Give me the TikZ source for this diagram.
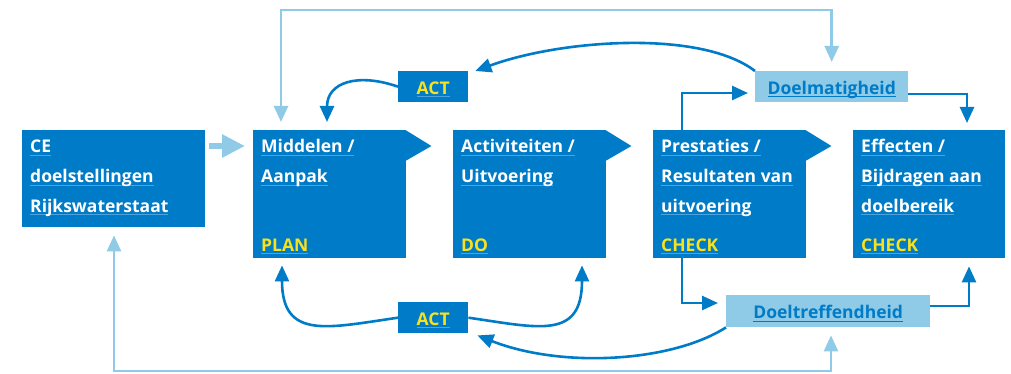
\documentclass[tikz,border=0pt]{standalone}
\usepackage{fontspec}
\setmainfont{Open Sans}
\usetikzlibrary{arrows.meta}

\definecolor{rwsblue}{HTML}{007BC7}
\definecolor{rwslight}{HTML}{8FCAE7}
\definecolor{rwsyellow}{HTML}{F9E11E}
\definecolor{ulpale}{HTML}{4FA3DC}

% text with a thin rule just under the baseline
\newcommand\ulx[2][ulpale]{\leavevmode\setbox0\hbox{#2}\rlap{\color{#1}\rule[-3pt]{\wd0}{1pt}}\box0}

\begin{document}
\begin{tikzpicture}[x=1pt, y=-1pt,
  txt/.style={font=\bfseries\fontsize{17.5}{20}\selectfont},
  box/.style={fill=rwsblue, draw=none, anchor=north west, inner sep=0pt,
    minimum width=153pt, minimum height=128pt},
  tabfill/.style={fill=rwsblue, draw=none},
  lbl/.style={txt, anchor=base west, inner sep=0pt, text=white},
  tag/.style={lbl, text=rwsyellow},
  smallbox/.style={txt, fill=rwsblue, anchor=north west, inner sep=0pt,
    minimum width=70pt, minimum height=31pt, text=rwsyellow,
    text height=15pt, text depth=0pt},
  lightbox/.style={txt, fill=rwslight, anchor=north west, inner sep=0pt,
    minimum height=31pt, text=rwsblue,
    text height=15pt, text depth=0pt},
  link/.style={draw=rwsblue, line width=2.6pt,
    -{Triangle[length=16pt,width=14pt]}},
  loopline/.style={draw=rwslight, line width=2.6pt,
    {Triangle[length=16pt,width=14pt]}-{Triangle[length=16pt,width=14pt]}},
  fatarrow/.style={draw=rwslight, line width=6pt,
    -{Triangle[length=23pt,width=22pt]}}
]
\useasboundingbox (0,0) rectangle (1011,374);

% main boxes
\node[box, minimum width=183pt, minimum height=97pt] (ce) at (22,130) {};
\node[box] (plan) at (253,130) {};
\node[box] (do) at (453,130) {};
\node[box] (chk) at (653,130) {};
\node[box, minimum width=152pt] (eff) at (853,130) {};

% pointer tabs, overlapping the box edge by one unit
\foreach \b in {plan,do,chk}
  \fill[tabfill] (\b.north east) ++(-1,0) -- ++(26,16) -- ++(-26,15) -- cycle;

% box texts
\node[lbl] (ce1) at (30,153) {\ulx{CE}};
\node[lbl] (ce2) at (30,182.5) {\ulx{doelstellingen}};
\node[lbl] (ce3) at (30,212) {\ulx{Rijkswaterstaat}};

\node[lbl] (plan1) at (261,153) {\ulx{Middelen /}};
\node[lbl] (plan2) at (261,182.5) {\ulx{Aanpak}};
\node[tag] (plan3) at (261,251) {\ulx{PLAN}};

\node[lbl] (do1) at (461,153) {\ulx{Activiteiten /}};
\node[lbl] (do2) at (461,182.5) {\ulx{Uitvoering}};
\node[tag] (do3) at (461,251) {\ulx{DO}};

\node[lbl] (chk1) at (661,153) {\ulx{Prestaties /}};
\node[lbl] (chk2) at (661,182.5) {\ulx{Resultaten van}};
\node[lbl] (chk3) at (661,212) {\ulx{uitvoering}};
\node[tag] (chk4) at (661,251) {\ulx{CHECK}};

\node[lbl] (eff1) at (861,153) {\ulx{Effecten /}};
\node[lbl] (eff2) at (861,182.5) {\ulx{Bijdragen aan}};
\node[lbl] (eff3) at (861,212) {\ulx{doelbereik}};
\node[tag] (eff4) at (861,251) {\ulx{CHECK}};

% small boxes
\node[smallbox] (act1) at (398,71) {\ulx{ACT}};
\node[smallbox] (act2) at (398,302) {\ulx{ACT}};
\node[lightbox, minimum width=153pt] (dm) at (755,71) {\ulx[rwsblue]{Doelmatigheid}};
\node[lightbox, minimum width=204pt, minimum height=32pt] (dt) at (726,295) {\ulx[rwsblue]{Doeltreffendheid}};

% CE feeds the plan
\draw[fatarrow] ([shift={(4,16)}]ce.north east) -- ([shift={(-8,16)}]plan.north west);

% light feedback loops
\coordinate (toprow) at (0,10);
\coordinate (botrow) at (0,371);
\coordinate (planin) at ([shift={(28,-8)}]plan.north west);
\coordinate (dmin) at ([shift={(0,-9)}]dm.north);
\coordinate (cein) at ([shift={(92,8)}]ce.south west);
\coordinate (dtin) at ([shift={(105,8)}]dt.south west);
\draw[loopline] (planin) -- (planin |- toprow) -| (dmin);
\draw[loopline] (cein) -- (cein |- botrow) -| (dtin);

% check results to the two measures
\draw[link] ([xshift=29pt]chk.north west) |- ([shift={(-7,22)}]dm.north west);
\draw[link] ([shift={(0,23)}]dm.north east) -| ([shift={(114,-7)}]eff.north west);
\draw[link] ([xshift=29pt]chk.south west) |- ([shift={(-8,8)}]dt.north west);
\draw[link] ([shift={(0,11)}]dt.north east) -| ([shift={(116,8)}]eff.south west);

% act loops
\draw[link] (dm.north west) .. controls +(-55,-42) and +(84,-31) .. ([xshift=7pt]act1.north east);
\draw[link] (act1.west) .. controls +(-40,-14) and +(0,-40) .. ([shift={(74,-8)}]plan.north west);
\draw[link] (act2.west) .. controls +(-70,10) and +(0,75) .. ([shift={(29,7)}]plan.south west);
\draw[link] (act2.east) .. controls +(70,10) and +(0,75) .. ([shift={(129,7)}]do.south west);
\draw[link] (dt.south west) .. controls +(-55,35) and +(84,33) .. ([shift={(9,2)}]act2.south east);
\end{tikzpicture}
\end{document}
